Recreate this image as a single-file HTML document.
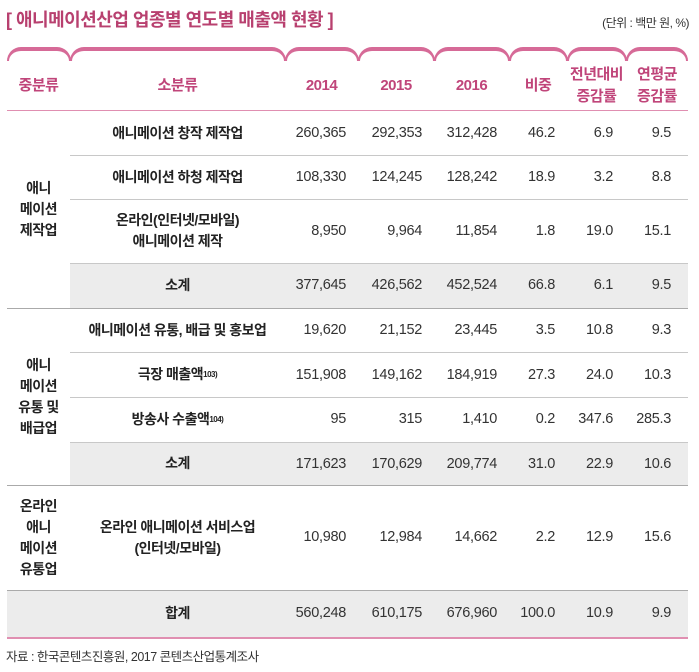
<!DOCTYPE html>
<html><head><meta charset="utf-8"><style>
body{margin:0;width:699px;height:672px;background:#fff;position:relative;overflow:hidden;font-family:"Liberation Sans","Noto Sans CJK KR",sans-serif;color:#222}
.a{position:absolute;white-space:nowrap}
.title{left:6px;top:6px;font-size:18px;font-weight:bold;color:#b8406f;letter-spacing:-0.5px}
.unit{right:10px;top:14px;font-size:12px;color:#333;letter-spacing:-0.5px}
.tab{position:absolute;top:47px;height:14px;border-top:4px solid #d66a97;border-left:2px solid #d66a97;border-right:2px solid #d66a97;border-radius:14px 14px 0 0;box-sizing:border-box}
.h{position:absolute;top:62px;height:48px;display:flex;align-items:center;justify-content:center;text-align:center;font-size:15px;font-weight:bold;color:#c0457a;line-height:22px;letter-spacing:-0.5px}
.line{position:absolute;height:1px;background:#c8c8c8}
.shade{position:absolute;background:#ececec}
.c{position:absolute;display:flex;align-items:center;justify-content:center;text-align:center;font-size:14px;font-weight:bold;line-height:21px;letter-spacing:-0.5px}
.n{position:absolute;font-size:14.5px;text-align:right;letter-spacing:-0.3px;color:#333}
sup{font-size:8px}
.foot{left:6px;top:646px;font-size:12.5px;color:#333;letter-spacing:-0.5px}
</style></head><body>
<div class="a title">[ 애니메이션산업 업종별 연도별 매출액 현황 ]</div>
<div class="a unit">(단위 : 백만 원, %)</div>

<div class="tab" style="left:7px;width:64px"></div>
<div class="tab" style="left:70px;width:216px"></div>
<div class="tab" style="left:285px;width:74px"></div>
<div class="tab" style="left:358px;width:77px"></div>
<div class="tab" style="left:434px;width:76px"></div>
<div class="tab" style="left:509px;width:59px"></div>
<div class="tab" style="left:567px;width:60px"></div>
<div class="tab" style="left:626px;width:62px"></div>

<div class="h" style="left:7px;width:63px">중분류</div>
<div class="h" style="left:70px;width:215px">소분류</div>
<div class="h" style="left:285px;width:73px">2014</div>
<div class="h" style="left:358px;width:76px">2015</div>
<div class="h" style="left:434px;width:75px">2016</div>
<div class="h" style="left:509px;width:58px">비중</div>
<div class="h" style="left:567px;width:59px">전년대비<br>증감률</div>
<div class="h" style="left:626px;width:62px">연평균<br>증감률</div>
<div class="line" style="left:7px;width:681px;top:110px;background:#e08fb1"></div>

<div class="shade" style="left:70px;width:618px;top:263px;height:45px"></div>
<div class="shade" style="left:70px;width:618px;top:442px;height:43px"></div>
<div class="shade" style="left:7px;width:681px;top:590px;height:47px"></div>

<div class="line" style="left:70px;width:618px;top:155px"></div>
<div class="line" style="left:70px;width:618px;top:199px"></div>
<div class="line" style="left:70px;width:618px;top:263px"></div>
<div class="line" style="left:7px;width:681px;top:308px;background:#aaa"></div>
<div class="line" style="left:70px;width:618px;top:352px"></div>
<div class="line" style="left:70px;width:618px;top:397px"></div>
<div class="line" style="left:70px;width:618px;top:442px"></div>
<div class="line" style="left:7px;width:681px;top:485px;background:#aaa"></div>
<div class="line" style="left:7px;width:681px;top:590px;background:#aaa"></div>
<div class="line" style="left:7px;width:681px;top:637px;height:2px;background:#e08fb1"></div>

<div class="c" style="left:7px;width:63px;top:111px;height:197px">애니<br>메이션<br>제작업</div>
<div class="c" style="left:7px;width:63px;top:308px;height:177px">애니<br>메이션<br>유통 및<br>배급업</div>
<div class="c" style="left:7px;width:63px;top:485px;height:105px">온라인<br>애니<br>메이션<br>유통업</div>

<div class="c" style="left:70px;width:215px;top:111px;height:44px">애니메이션 창작 제작업</div>
<div class="c" style="left:70px;width:215px;top:155px;height:44px">애니메이션 하청 제작업</div>
<div class="c" style="left:70px;width:215px;top:199px;height:64px">온라인(인터넷/모바일)<br>애니메이션 제작</div>
<div class="c" style="left:70px;width:215px;top:263px;height:45px">소계</div>
<div class="c" style="left:70px;width:215px;top:308px;height:44px">애니메이션 유통, 배급 및 홍보업</div>
<div class="c" style="left:70px;width:215px;top:352px;height:45px">극장 매출액<sup>103)</sup></div>
<div class="c" style="left:70px;width:215px;top:397px;height:45px">방송사 수출액<sup>104)</sup></div>
<div class="c" style="left:70px;width:215px;top:442px;height:43px">소계</div>
<div class="c" style="left:70px;width:215px;top:485px;height:105px">온라인 애니메이션 서비스업<br>(인터넷/모바일)</div>
<div class="c" style="left:70px;width:215px;top:590px;height:47px">합계</div>

<div id="nums"></div>
<script>
var rows=[[133,["260,365","292,353","312,428","46.2","6.9","9.5"]],
[177,["108,330","124,245","128,242","18.9","3.2","8.8"]],
[231,["8,950","9,964","11,854","1.8","19.0","15.1"]],
[285,["377,645","426,562","452,524","66.8","6.1","9.5"]],
[330,["19,620","21,152","23,445","3.5","10.8","9.3"]],
[375,["151,908","149,162","184,919","27.3","24.0","10.3"]],
[419,["95","315","1,410","0.2","347.6","285.3"]],
[464,["171,623","170,629","209,774","31.0","22.9","10.6"]],
[537,["10,980","12,984","14,662","2.2","12.9","15.6"]],
[613,["560,248","610,175","676,960","100.0","10.9","9.9"]]];
var rights=[346,422,497,555,613,671];
var h="";
rows.forEach(function(r){r[1].forEach(function(v,i){h+='<div class="n" style="right:'+(699-rights[i])+'px;top:'+(r[0]-8)+'px">'+v+'</div>';});});
document.getElementById("nums").innerHTML=h;
</script>
<div class="a foot">자료 : 한국콘텐츠진흥원, 2017 콘텐츠산업통계조사</div>
</body></html>
